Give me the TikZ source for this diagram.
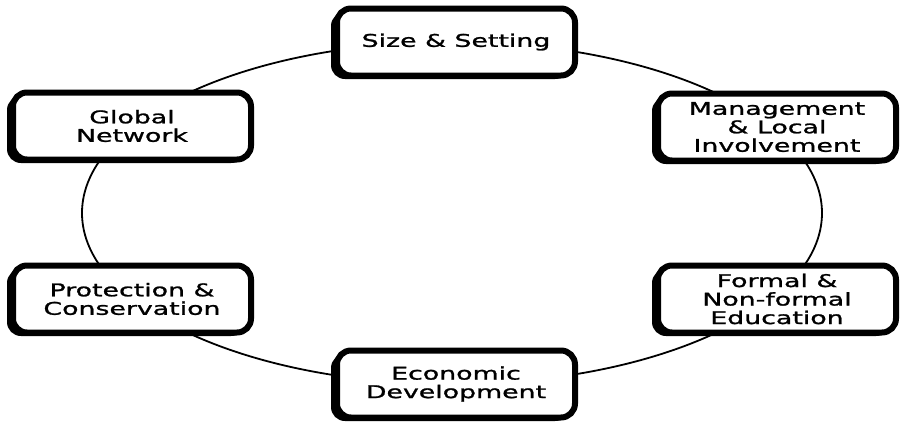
\documentclass[tikz,border=0pt]{standalone}
\usepackage{fontspec}
\usetikzlibrary{shadows}
\newfontfamily\boxfont{DejaVu Sans}[FakeStretch=1.53,FakeBold=1.3]
\begin{document}
\begin{tikzpicture}[x=1pt,y=-1pt,
  cbox/.style={draw=black, line width=6pt, rounded corners=14pt, fill=white,
    minimum width=238pt, minimum height=67pt, align=center, inner sep=2pt,
    font=\boxfont\fontsize{17.5}{18.5}\selectfont,
    drop shadow={shadow xshift=-6pt, shadow yshift=-3.5pt, fill=black, opacity=1}},
  ring/.style={draw=black, line width=1.8pt}]
\useasboundingbox (0,0) rectangle (900,424);
\draw[ring] (452,213) ellipse [x radius=370pt, y radius=171pt];
\node[cbox] (size) at (456,42) {Size \& Setting};
\node[cbox] (mgmt) at (777,127) {Management\\\& Local\\Involvement};
\node[cbox] (edu) at (777,299) {Formal \&\\Non-formal\\Education};
\node[cbox] (econ) at (456,384) {Economic\\Development};
\node[cbox] (prot) at (132,299) {Protection \&\\Conservation};
\node[cbox] (glob) at (132,126) {Global\\Network};
\end{tikzpicture}
\end{document}
